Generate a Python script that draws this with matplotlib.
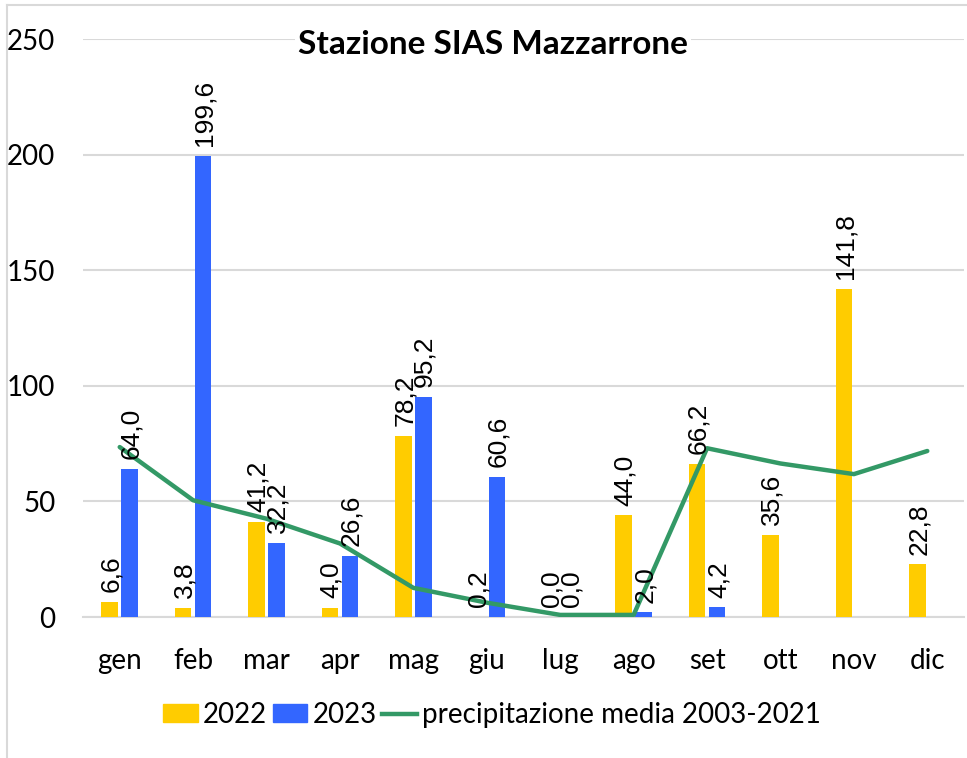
import numpy as np
import matplotlib.pyplot as plt
from matplotlib.lines import Line2D
from matplotlib.patches import Patch

# dati mensili (mm)
mesi = ['gen', 'feb', 'mar', 'apr', 'mag', 'giu', 'lug', 'ago', 'set', 'ott', 'nov', 'dic']
pioggia_2022 = [6.6, 3.8, 41.2, 4.0, 78.2, 0.2, 0.0, 44.0, 66.2, 35.6, 141.8, 22.8]
pioggia_2023 = [64.0, 199.6, 32.2, 26.6, 95.2, 60.6, 0.0, 2.0, 4.2, None, None, None]
media_2003_2021 = [73.5, 50.5, 42.5, 31.8, 12.6, 6.2, 0.9, 0.9, 73.0, 66.4, 61.8, 71.8]

giallo = '#FFCC00'
blu = '#3366FF'
verde = '#339966'

plt.rcParams['font.family'] = ['Lato', 'DejaVu Sans']

fig = plt.figure(figsize=(9.67, 7.58), dpi=100)
ax = fig.add_axes([83 / 967, 1 - 617 / 758, (964 - 83) / 967, (617 - 39) / 758])

x = np.arange(len(mesi))
w = 0.225
off = 0.136

v23 = [np.nan if v is None else v for v in pioggia_2023]
ax.bar(x - off, pioggia_2022, w, color=giallo, zorder=2)
ax.bar(x + off, v23, w, color=blu, zorder=2)
ax.plot(x, media_2003_2021, color=verde, lw=3.2, zorder=3, solid_capstyle='round')

# etichette dati ruotate
for xi, v in zip(x - off, pioggia_2022):
    ax.annotate(f'{v:.1f}'.replace('.', ','), (xi, v), xytext=(1, 7), textcoords='offset points',
                rotation=90, ha='center', va='bottom', fontsize=19,
                family='Liberation Sans', zorder=5)
for xi, v in zip(x + off, pioggia_2023):
    if v is None:
        continue
    ax.annotate(f'{v:.1f}'.replace('.', ','), (xi, v), xytext=(1, 7), textcoords='offset points',
                rotation=90, ha='center', va='bottom', fontsize=19,
                family='Liberation Sans', zorder=5)

ax.set_xlim(-0.5, 11.5)
ax.set_ylim(0, 250)
ax.set_yticks(range(0, 251, 50))
ax.set_xticks(x)
ax.set_xticklabels(mesi)
ax.tick_params(axis='both', length=0, labelsize=20)
ax.tick_params(axis='x', pad=22)
ax.tick_params(axis='y', pad=20)
ax.grid(axis='y', color='#D9D9D9', lw=1.5, zorder=0)
for s in ['top', 'right', 'left']:
    ax.spines[s].set_visible(False)
ax.spines['bottom'].set_color('#D9D9D9')
ax.spines['bottom'].set_linewidth(1.5)
ax.spines['bottom'].set_zorder(1)

fig.text(493 / 967, 1 - 45 / 758, 'Stazione SIAS Mazzarrone', ha='center', va='center',
         fontsize=24, fontweight='bold',
         bbox=dict(facecolor='white', edgecolor='none', pad=2))

handles = [Patch(color=giallo, label='2022'), Patch(color=blu, label='2023'),
           Line2D([], [], color=verde, lw=3.2, label='precipitazione media 2003-2021')]
fig.legend(handles=handles, loc='center', bbox_to_anchor=(492 / 967, 1 - 715 / 758), ncol=3,
           frameon=False, fontsize=20, handlelength=1.25, handleheight=0.6,
           handletextpad=0.18, columnspacing=0.2)

# bordo del grafico
fig.add_artist(Line2D([7 / 967, 7 / 967], [0, 1 - 5 / 758], color='#D9D9D9', lw=1.5))
fig.add_artist(Line2D([7 / 967, 1], [1 - 5 / 758, 1 - 5 / 758], color='#D9D9D9', lw=1.5))

fig.savefig('out.png', dpi=100)
